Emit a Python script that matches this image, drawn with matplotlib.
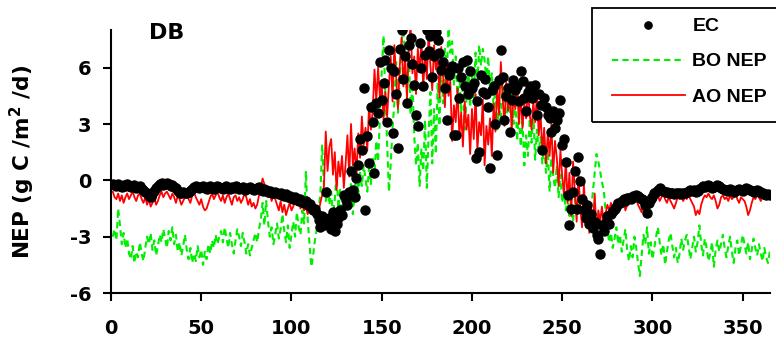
"""NEP chart for the DB site: eddy covariance vs. model before/after optimisation"""
import matplotlib
matplotlib.use('Agg')
import matplotlib.pyplot as plt
from matplotlib.patches import Rectangle

# day of year 1..365
days = list(range(1, 366))

# eddy covariance NEP (g C/m2/d)
ec_nep = [
    -0.2, -0.25, -0.3, -0.2, -0.3, -0.35, -0.25, -0.3, -0.2, -0.3,
    -0.35, -0.3, -0.25, -0.4, -0.35, -0.3, -0.45, -0.5, -0.6, -0.7,
    -0.85, -0.9, -0.75, -0.55, -0.4, -0.3, -0.2, -0.15, -0.25, -0.2,
    -0.15, -0.2, -0.3, -0.25, -0.35, -0.4, -0.55, -0.65, -0.7, -0.6,
    -0.65, -0.7, -0.6, -0.55, -0.45, -0.35, -0.3, -0.35, -0.4, -0.35,
    -0.3, -0.4, -0.45, -0.35, -0.3, -0.4, -0.45, -0.35, -0.3, -0.35,
    -0.4, -0.45, -0.35, -0.3, -0.4, -0.45, -0.35, -0.4, -0.3, -0.35,
    -0.45, -0.4, -0.35, -0.5, -0.45, -0.4, -0.35, -0.45, -0.5, -0.45,
    -0.4, -0.35, -0.5, -0.55, -0.45, -0.5, -0.6, -0.55, -0.65, -0.7,
    -0.6, -0.7, -0.75, -0.65, -0.8, -0.85, -0.75, -0.9, -0.85, -0.95,
    -1.0, -0.9, -1.05, -1.1, -1.0, -1.15, -1.2, -1.1, -1.3, -1.25,
    -1.4, -1.6, -1.5, -1.8, -2.1, -2.5, -1.9, -2.4, -0.6, -2.2,
    -2.0, -2.6, -1.7, -2.7, -2.3, -2.0, -1.6, -1.85, -0.8, -1.05,
    -1.3, -0.6, 0.5, -0.5, -0.9, 0.1, 0.8, 2.2, 1.6, 4.9,
    -1.6, 2.35, 0.9, 3.9, 3.1, 0.4, 4.1, 3.6, 6.3, 4.3,
    5.2, 6.4, 3.1, 6.95, 6.0, 2.5, 5.8, 4.6, 1.7, 7.0,
    8.0, 5.4, 6.6, 4.1, 7.2, 7.6, 6.2, 5.1, 3.5, 2.9,
    7.3, 6.0, 5.0, 6.7, 8.0, 6.9, 7.7, 5.5, 6.6, 7.9,
    7.5, 6.8, 5.9, 6.3, 4.9, 3.2, 5.6, 5.8, 6.1, 2.4,
    2.4, 6.0, 4.4, 5.5, 6.3, 5.0, 6.4, 4.6, 5.8, 4.9,
    5.2, 1.17, 4.2, 1.5, 5.6, 4.7, 5.4, 4.6, 3.9, 0.64,
    4.8, 5.0, 3.0, 1.35, 5.35, 6.95, 5.5, 3.2, 4.5, 4.9,
    2.6, 4.3, 5.35, 4.8, 5.0, 4.2, 5.8, 5.3, 4.4, 3.7,
    4.7, 5.0, 4.4, 4.8, 5.1, 3.5, 4.6, 4.0, 1.6, 4.4,
    3.9, 3.5, 3.3, 2.6, 3.7, 2.8, 3.2, 3.6, 4.3, 1.9,
    2.2, 1.0, -0.8, -2.4, -1.5, -0.6, 0.48, -1.5, 1.26, -0.05,
    -1.0, -1.6, -2.0, -1.3, -2.3, -1.8, -2.56, -2.2, -2.9, -3.1,
    -3.9, -2.4, -2.7, -2.2, -1.9, -2.3, -1.8, -1.65, -1.5, -1.4,
    -1.2, -1.2, -1.1, -1.0, -1.1, -0.95, -0.96, -1.0, -0.85, -0.9,
    -0.8, -0.85, -0.95, -1.0, -1.05, -1.3, -1.76, -1.2, -1.0, -0.87,
    -0.7, -0.6, -0.5, -0.43, -0.5, -0.55, -0.6, -0.6, -0.7, -0.65,
    -0.7, -0.75, -0.7, -0.65, -0.7, -0.75, -0.7, -0.65, -0.6, -0.55,
    -0.5, -0.55, -0.5, -0.6, -0.55, -0.45, -0.4, -0.3, -0.35, -0.3,
    -0.25, -0.3, -0.4, -0.35, -0.3, -0.25, -0.3, -0.4, -0.45, -0.5,
    -0.5, -0.55, -0.45, -0.5, -0.6, -0.55, -0.5, -0.45, -0.5, -0.55,
    -0.45, -0.4, -0.45, -0.5, -0.55, -0.6, -0.55, -0.5, -0.55, -0.65,
    -0.7, -0.75, -0.8, -0.75, -0.8,
]

# modelled NEP before optimisation
bo_nep = [
    -3.0, -2.6, -3.2, -1.5, -2.4, -3.4, -2.8, -3.6, -3.1, -3.9,
    -4.2, -3.5, -4.4, -3.8, -4.1, -3.3, -3.9, -4.3, -3.6, -3.0,
    -3.4, -2.8, -3.7, -3.2, -4.0, -3.5, -2.9, -3.3, -2.6, -3.1,
    -3.6, -2.7, -3.2, -2.5, -3.4, -2.9, -3.8, -3.3, -4.0, -3.5,
    -2.9, -3.7, -4.2, -3.6, -4.4, -3.9, -4.3, -3.5, -4.1, -3.7,
    -4.5, -3.8, -4.2, -3.4, -3.9, -3.2, -3.6, -2.9, -3.4, -3.0,
    -2.7, -3.3, -2.5, -3.1, -3.6, -2.8, -3.4, -3.9, -3.2, -2.6,
    -3.0, -3.5, -2.8, -3.3, -3.9, -3.4, -4.0, -3.6, -3.2, -2.8,
    -3.3, -2.6, -2.1, -1.2, -2.4, -1.1, -2.2, -3.0, -2.5, -3.4,
    -2.9, -2.3, -3.1, -2.6, -1.8, -2.7, -3.3, -2.4, -3.6, -2.9,
    -2.2, -3.0, -1.7, -2.5, -2.9, -1.6, -2.3, 0.5, -2.1, -3.4,
    -4.6, -4.0, -3.2, -2.6, -1.5, -0.8, 1.9, -0.3, -1.1, -0.4,
    -1.3, -0.6, -1.9, -1.0, 0.3, -1.5, -0.5, -2.0, -0.9, -1.6,
    -0.4, -1.3, -0.2, -1.8, -0.6, 0.6, -0.8, 0.4, -0.3, 0.8,
    0.1, -0.6, 0.7, -0.2, 1.3, 0.3, 2.1, 1.0, 3.4, 5.8,
    7.7, 4.5, 2.0, -0.6, 0.9, 2.8, 4.1, 6.3, 3.6, 5.4,
    7.2, 8.5, 6.0, 4.8, 6.9, 3.5, 5.2, 2.4, 0.8, 2.0,
    -0.3, 1.7, 0.5, 3.2, -0.4, 2.6, 4.7, 0.9, 3.8, 1.4,
    5.2, 2.9, 6.4, 4.1, 7.0, 5.5, 8.1, 6.8, 7.4, 5.1,
    6.6, 4.3, 5.8, 3.6, 5.2, 2.7, 4.5, 6.2, 3.9, 5.6,
    4.4, 6.8, 5.0, 7.2, 6.1, 7.0, 6.4, 5.3, 6.6, 4.8,
    5.7, 3.8, 5.1, 2.6, 4.3, 3.2, 5.5, 4.0, 2.9, 4.6,
    3.5, 5.0, 3.0, 4.4, 2.1, 3.6, 1.8, 3.1, 0.8, 2.4,
    1.3, 3.3, 2.0, 3.6, 1.1, 2.7, 1.5, 2.3, 0.9, 2.0,
    0.4, 1.6, -0.6, 1.2, 0.2, -0.4, 0.8, -0.9, 0.3, -1.2,
    -0.5, -1.6, -0.9, -1.9, -1.3, -2.2, -1.0, -1.7, -0.8, -1.4,
    -2.0, -1.1, -1.8, -1.2, -2.4, -1.5, -0.6, 0.4, 1.4, 1.0,
    0.5, -0.1, -0.5, -1.6, -2.6, -3.3, -2.8, -3.6, -3.1, -2.5,
    -3.4, -2.9, -3.8, -3.2, -2.6, -3.7, -4.3, -3.5, -4.1, -3.0,
    -3.6, -4.4, -5.1, -4.0, -2.9, -3.4, -2.5, -3.9, -3.3, -4.2,
    -3.6, -3.0, -2.5, -3.3, -4.0, -3.4, -4.5, -3.8, -3.2, -2.8,
    -3.5, -4.1, -3.6, -4.4, -3.9, -3.1, -3.7, -3.2, -2.9, -3.5,
    -4.2, -3.6, -3.0, -3.8, -3.3, -2.4, -3.4, -4.0, -3.1, -3.6,
    -4.3, -3.9, -3.3, -4.6, -3.7, -3.2, -3.8, -3.4, -2.9, -3.6,
    -4.1, -3.5, -3.0, -3.8, -4.4, -3.6, -3.2, -4.0, -3.5, -2.9,
    -3.4, -3.9, -3.3, -4.2, -3.7, -3.1, -3.6, -4.0, -3.4, -3.9,
    -4.3, -3.6, -4.1, -4.4, -3.8,
]

# modelled NEP after optimisation
ao_nep = [
    -0.6, -0.9, -1.0, -0.7, -1.1, -0.8, -1.2, -0.9, -0.7, -1.0,
    -0.8, -0.6, -0.9, -1.1, -0.8, -0.7, -1.0, -1.2, -0.9, -1.3,
    -1.0, -1.4, -1.2, -0.9, -1.3, -1.1, -0.8, -0.6, -0.9, -0.7,
    -0.6, -0.8, -1.0, -0.7, -0.9, -1.2, -0.8, -1.0, -1.3, -1.1,
    -0.9, -0.7, -1.0, -1.2, -0.8, -0.6, -0.9, -1.1, -1.3, -1.0,
    -1.4, -1.6, -1.5, -1.2, -0.9, -0.7, -1.0, -0.8, -0.6, -0.9,
    -1.1, -0.8, -1.2, -0.9, -0.7, -1.0, -1.3, -0.9, -0.8, -1.1,
    -0.9, -1.2, -1.0, -0.7, -0.9, -1.3, -1.0, -1.4, -1.2, -1.5,
    -1.3, -0.8, -0.4, 0.1, -0.2, -0.5, -0.9, -0.7, -1.1, -0.8,
    -1.0, -1.3, -1.6, -1.1, -1.7, -1.3, -1.85, -1.5, -1.2, -1.6,
    -1.4, -1.0, -1.3, -1.1, -1.5, -1.2, -1.6, -1.4, -1.8, -1.5,
    -1.7, -1.3, -1.9, -1.5, -1.7, -1.2, -0.8, -0.3, 2.6, 0.5,
    1.8, 2.2, 0.3, 1.5, -0.5, 1.0, 0.2, 1.3, -0.4, 0.9,
    2.4, 0.2, 3.0, 0.8, 1.7, 0.3, 2.5, 1.2, 3.4, 1.9,
    2.8, 1.6, 4.0, 2.7, 3.7, 5.9, 4.2, 6.0, 4.4, 5.2,
    3.2, 4.7, 3.4, 5.1, 6.6, 4.2, 7.2, 5.5, 3.8, 6.1,
    7.6, 5.0, 6.5, 4.3, 7.3, 8.2, 5.7, 6.6, 4.6, 7.0,
    5.8, 7.5, 4.9, 6.8, 5.4, 7.9, 6.1, 4.8, 7.2, 5.9,
    6.8, 4.4, 7.1, 5.6, 3.9, 6.2, 4.5, 5.3, 2.1, 4.0,
    3.1, 4.9, 2.4, 3.6, 1.8, 4.2, 2.7, 3.5, 1.4, 3.8,
    2.2, 4.6, 1.6, 3.1, 2.4, 4.3, 0.8, 2.9, 1.9, 3.3,
    1.3, 4.1, 2.6, 5.0, 3.5, 6.3, 4.4, 2.9, 5.2, 3.7,
    4.8, 2.6, 4.6, 3.8, 5.2, 3.0, 4.5, 2.8, 4.1, 3.3,
    4.9, 3.5, 2.7, 4.2, 3.1, 4.6, 2.4, 3.6, 1.5, 2.8,
    0.9, 2.5, 1.3, 3.0, 0.4, 2.1, 1.2, -0.3, 1.6, 0.2,
    -0.8, 1.1, -1.2, 0.4, -1.9, 1.0, -0.6, -2.2, 0.3, -1.4,
    -2.5, -0.2, -2.0, -1.1, -2.8, -1.5, -2.4, -0.7, -2.9, -1.6,
    -2.2, -1.4, -2.4, -1.8, -1.3, -1.6, -1.2, -1.5, -1.1, -1.3,
    -1.2, -1.0, -1.4, -1.1, -1.6, -1.3, -1.0, -1.2, -0.9, -1.1,
    -1.0, -1.3, -1.5, -1.7, -1.2, -1.4, -1.9, -1.6, -1.3, -1.1,
    -0.9, -1.0, -0.8, -1.1, -0.9, -0.7, -1.0, -1.2, -0.9, -1.1,
    -1.3, -1.5, -1.2, -0.9, -1.0, -0.8, -1.1, -0.9, -1.0, -0.8,
    -1.0, -1.2, -1.4, -1.85, -1.6, -1.8, -1.3, -1.0, -0.8, -0.9,
    -0.7, -0.9, -1.0, -0.8, -1.1, -1.5, -1.3, -0.9, -0.8, -1.0,
    -0.9, -1.1, -0.8, -1.0, -0.9, -0.7, -1.0, -1.2, -0.9, -1.0,
    -1.1, -1.4, -1.85, -1.6, -1.2, -0.9, -1.0, -0.8, -0.9, -1.1,
    -0.9, -0.8, -1.0, -0.9, -0.8,
]

x_ticks = [0, 50, 100, 150, 200, 250, 300, 350]
y_ticks = [-6, -3, 0, 3, 6]

plt.rcParams['font.family'] = 'DejaVu Sans'
plt.rcParams['font.weight'] = 'bold'
plt.rcParams['font.size'] = 14
plt.rcParams['axes.unicode_minus'] = False

fig = plt.figure(figsize=(7.76, 3.45), dpi=100)
ax = fig.add_axes([0.143, 0.1507, 0.849, 0.762])

# model runs first, observations on top
ax.plot(days, bo_nep, color='#00ee00', linewidth=1.5, linestyle=(0, (3, 2)), label='BO NEP')
ax.plot(days, ao_nep, color='#ff0000', linewidth=1.3, label='AO NEP')
ax.plot(days, ec_nep, linestyle='none', marker='o', markersize=6.5, color='black', label='EC')

ax.set_xlim(0, 365)
ax.set_ylim(-6, 8)
ax.set_xticks(x_ticks)
ax.set_yticks(y_ticks)
ax.tick_params(axis='both', direction='out', length=6, width=1.5, colors='black')
ax.tick_params(axis='x', pad=13)
ax.tick_params(axis='y', pad=8)
for side in ['top', 'right']:
    ax.spines[side].set_visible(False)
for side in ['left', 'bottom']:
    ax.spines[side].set_linewidth(1.5)

ax.set_ylabel(r'NEP (g C /m$^{\mathbf{2}}$ /d)', fontweight='bold', fontsize=15.5)
ax.yaxis.set_label_coords(-0.112, 0.5)
ax.text(31, 7.85, 'DB', fontsize=16, fontweight='bold', ha='center', va='center')

# legend box is cut by the right edge of the picture
handles, labels = ax.get_legend_handles_labels()
order = [2, 0, 1]
fig.legend([handles[i] for i in order], [labels[i] for i in order],
           loc='upper left', bbox_to_anchor=(602 / 776, 1 - 8 / 345),
           bbox_transform=fig.transFigure, frameon=False, borderpad=0,
           handlelength=3.75, handletextpad=0.4, labelspacing=0.9,
           markerscale=0.8, prop={'family': 'Liberation Sans', 'weight': 'bold', 'size': 14})
fig.add_artist(Rectangle((592 / 776, 1 - 122 / 345), 0.3, 114 / 345,
                         transform=fig.transFigure, fill=False,
                         edgecolor='black', linewidth=1.3))

plt.savefig('out.png', dpi=100)
